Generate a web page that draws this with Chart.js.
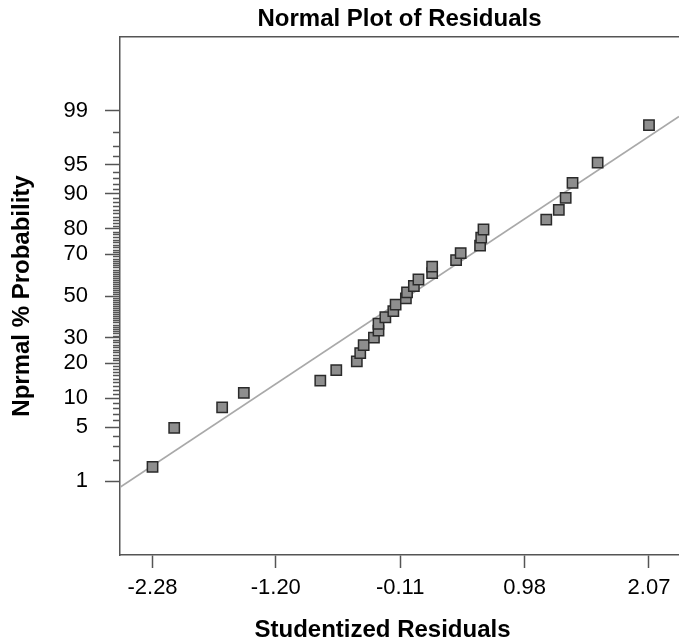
<!DOCTYPE html>
<html>
<head>
<meta charset="utf-8">
<script src="https://cdn.jsdelivr.net/npm/chart.js@4/dist/chart.umd.min.js"></script>
<style>
  html, body { margin: 0; padding: 0; background: #fff; }
  canvas { display: block; }
</style>
</head>
<body>
<canvas id="normalPlot" width="679" height="641"></canvas>
<script>
// Studentized residuals (x) and their normal % probability (y)
const residuals = [-2.28, -2.09, -1.67, -1.48, -0.81, -0.67, -0.49, -0.46, -0.43, -0.34, -0.30, -0.30,
                   -0.24, -0.17, -0.15, -0.06, -0.05, 0.01, 0.05, 0.17, 0.17, 0.38, 0.42, 0.59,
                   0.60, 0.62, 1.17, 1.28, 1.34, 1.40, 1.62, 2.07];
const probPct = [1.6, 4.9, 8.1, 11.2, 14.4, 17.6, 20.6, 23.7, 26.9, 30.1, 33.2, 36.4,
                 39.5, 42.5, 45.7, 48.8, 51.8, 55.0, 58.2, 61.3, 64.4, 67.4, 70.5, 73.6,
                 76.8, 79.8, 83.1, 86.0, 89.1, 92.2, 95.3, 98.4];

// axis ticks
const xTicks = [-2.28, -1.20, -0.11, 0.98, 2.07];
const yTicks = [1, 5, 10, 20, 30, 50, 70, 80, 90, 95, 99];
const yMinorTicks = [];
for (let p = 2; p <= 98; p++) {
    if (!yTicks.includes(p)) yMinorTicks.push(p);
}

// reference line on the probit scale: z = fitSlope * residual + fitIntercept
const fitSlope = 0.95;
const fitIntercept = 0.037;

const xMin = -2.565, xMax = 2.333;
const zMin = -3.25, zMax = 3.25;

// inverse of the standard normal CDF (Acklam)
function probit(p) {
    const a = [-3.969683028665376e+01, 2.209460984245205e+02, -2.759285104469687e+02, 1.383577518672690e+02, -3.066479806614716e+01, 2.506628277459239e+00];
    const b = [-5.447609879822406e+01, 1.615858368580409e+02, -1.556989798598866e+02, 6.680131188771972e+01, -1.328068155288572e+01];
    const c = [-7.784894002430293e-03, -3.223964580411365e-01, -2.400758277161838e+00, -2.549732539343734e+00, 4.374664141464968e+00, 2.938163982698783e+00];
    const d = [7.784695709041462e-03, 3.224671290700398e-01, 2.445134137142996e+00, 3.754408661907416e+00];
    const pl = 0.02425;
    let q, r;
    if (p < pl) {
        q = Math.sqrt(-2 * Math.log(p));
        return (((((c[0]*q+c[1])*q+c[2])*q+c[3])*q+c[4])*q+c[5]) / ((((d[0]*q+d[1])*q+d[2])*q+d[3])*q+1);
    }
    if (p > 1 - pl) {
        q = Math.sqrt(-2 * Math.log(1 - p));
        return -(((((c[0]*q+c[1])*q+c[2])*q+c[3])*q+c[4])*q+c[5]) / ((((d[0]*q+d[1])*q+d[2])*q+d[3])*q+1);
    }
    q = p - 0.5;
    r = q * q;
    return (((((a[0]*r+a[1])*r+a[2])*r+a[3])*r+a[4])*r+a[5])*q / (((((b[0]*r+b[1])*r+b[2])*r+b[3])*r+b[4])*r+1);
}

const axisColor = '#555555';
const fontFamily = "'Liberation Sans', Arial, sans-serif";

const points = residuals.map((r, i) => ({ x: r, y: probit(probPct[i] / 100) }));
const fitPoints = [xMin, xMax].map(x => ({ x: x, y: fitSlope * x + fitIntercept }));

// short ticks for every whole percent between the labelled ones
const minorTicksPlugin = {
    id: 'minorTicks',
    afterDraw(chart) {
        const ctx = chart.ctx;
        const yScale = chart.scales.y;
        const left = chart.chartArea.left;
        ctx.save();
        ctx.strokeStyle = axisColor;
        ctx.lineWidth = 1.5;
        ctx.beginPath();
        yMinorTicks.forEach(p => {
            const y = Math.round(yScale.getPixelForValue(probit(p / 100))) + 0.5;
            ctx.moveTo(left - 7, y);
            ctx.lineTo(left, y);
        });
        ctx.stroke();
        ctx.restore();
    }
};

// x axis title sits a little left of the plot centre in the original
const xTitlePlugin = {
    id: 'xTitle',
    afterDraw(chart) {
        const ctx = chart.ctx;
        const area = chart.chartArea;
        ctx.save();
        ctx.fillStyle = '#000';
        ctx.font = "bold 24px " + fontFamily;
        ctx.textAlign = 'center';
        ctx.textBaseline = 'alphabetic';
        ctx.fillText('Studentized Residuals', (area.left + area.right) / 2 - 17, chart.height - 4);
        ctx.restore();
    }
};

new Chart(document.getElementById('normalPlot'), {
    type: 'scatter',
    data: {
        datasets: [
            {
                label: 'Residuals',
                data: points,
                pointStyle: 'rect',
                pointRadius: 7.3,
                pointHoverRadius: 7.3,
                backgroundColor: '#8e8e8e',
                borderColor: '#2a2a2a',
                borderWidth: 1.5
            },
            {
                type: 'line',
                label: 'Normal line',
                data: fitPoints,
                borderColor: '#a9a9a9',
                borderWidth: 1.6,
                pointRadius: 0,
                fill: false
            }
        ]
    },
    options: {
        responsive: false,
        devicePixelRatio: 1,
        animation: false,
        layout: { padding: 0, autoPadding: false },
        plugins: {
            legend: { display: false },
            tooltip: { enabled: false },
            title: {
                display: true,
                fullSize: false,
                text: 'Normal Plot of Residuals',
                color: '#000',
                font: { family: fontFamily, size: 24, weight: 'bold' },
                padding: { top: 5, bottom: 3.2 }
            }
        },
        scales: {
            x: {
                type: 'linear',
                position: 'bottom',
                min: xMin,
                max: xMax,
                afterBuildTicks: scale => { scale.ticks = xTicks.map(v => ({ value: v })); },
                afterFit: scale => { scale.height = 86; },
                ticks: {
                    color: '#000',
                    font: { family: fontFamily, size: 22 },
                    padding: 7,
                    maxRotation: 0,
                    autoSkip: false,
                    callback: value => value.toFixed(2)
                },
                grid: {
                    drawOnChartArea: false,
                    tickLength: 13,
                    tickColor: axisColor,
                    tickWidth: 1.5
                },
                border: { color: axisColor, width: 1.5 }
            },
            xTop: {
                type: 'linear',
                position: 'top',
                min: xMin,
                max: xMax,
                afterFit: scale => { scale.height = 0; },
                ticks: { display: false },
                grid: { drawOnChartArea: false, drawTicks: false },
                border: { color: axisColor, width: 1.5 }
            },
            y: {
                type: 'linear',
                position: 'left',
                min: zMin,
                max: zMax,
                afterBuildTicks: scale => { scale.ticks = yTicks.map(p => ({ value: probit(p / 100) })); },
                afterFit: scale => { scale.width = 120; },
                ticks: {
                    color: '#000',
                    font: { family: fontFamily, size: 22 },
                    padding: 17,
                    autoSkip: false,
                    callback: (value, index) => String(yTicks[index])
                },
                grid: {
                    drawOnChartArea: false,
                    tickLength: 15,
                    tickColor: axisColor,
                    tickWidth: 1.5
                },
                border: { color: axisColor, width: 1.5 },
                title: {
                    display: true,
                    text: 'Nprmal % Probability',
                    color: '#000',
                    font: { family: fontFamily, size: 24, weight: 'bold' },
                    padding: { top: 8, bottom: 0 }
                }
            }
        }
    },
    plugins: [minorTicksPlugin, xTitlePlugin]
});
</script>
</body>
</html>
